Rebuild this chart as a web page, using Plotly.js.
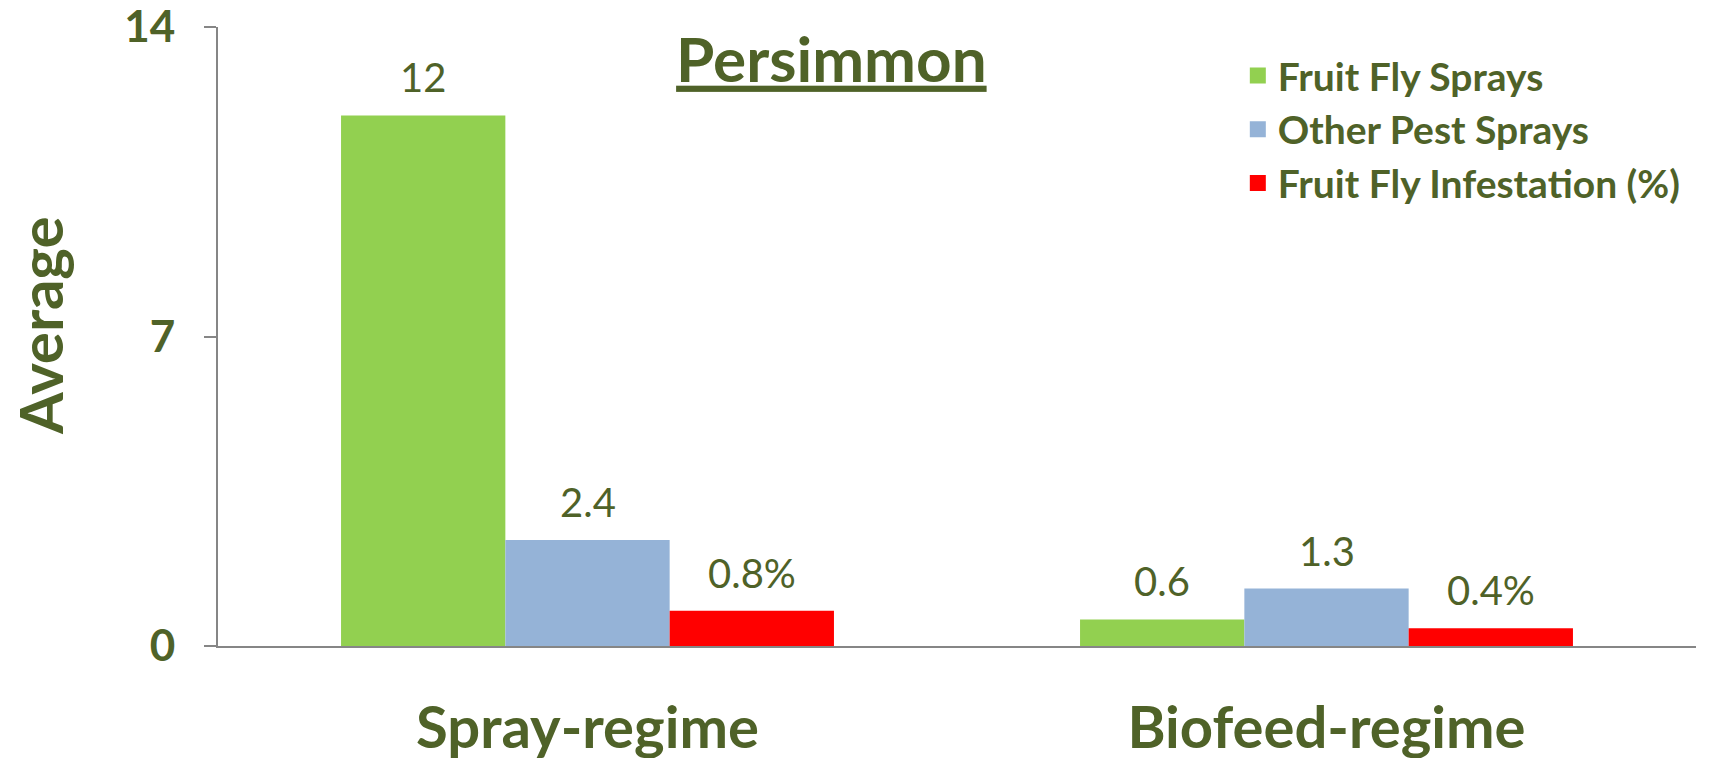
<!DOCTYPE html>
<html>
<head>
<meta charset="utf-8">
<script src="https://cdn.plot.ly/plotly-3.0.1.min.js"></script>
<style>
  html, body { margin: 0; padding: 0; background: #fff; }
  #chart { width: 1710px; height: 758px; }
</style>
</head>
<body>
<div id="chart"></div>
<script>
// values
const regimes = ['Spray-regime', 'Biofeed-regime'];
const seriesNames = ['Fruit Fly Sprays', 'Other Pest Sprays', 'Fruit Fly Infestation (%)'];
const fruitFlySprays = [12, 0.6];
const otherPestSprays = [2.4, 1.3];
const infestation = [0.8, 0.4];
const yTicks = [0, 7, 14];

const colors = ['#92D050', '#95B3D7', '#FF0000'];
const olive = '#4F6228';
const font = 'Lato, "Open Sans", sans-serif';

const W = 1710, H = 758;
const margin = {l: 218, r: 14, t: 27, b: 112};
const bargap = 0.333;

const allSeries = [fruitFlySprays, otherPestSprays, infestation];
const suffix = ['', '', '%'];

let data = [];
allSeries.forEach(function(vals, i) {
    data.push({
        type: 'bar',
        x: regimes,
        y: vals,
        name: seriesNames[i],
        marker: {color: colors[i], line: {width: 0}},
        showlegend: false,
        hoverinfo: 'x+y'
    });
});

// legend entries with bigger square swatches
allSeries.forEach(function(vals, i) {
    data.push({
        type: 'scatter',
        mode: 'markers',
        x: [null],
        y: [null],
        name: seriesNames[i],
        marker: {symbol: 'square', size: 24, color: colors[i]}
    });
});

// value labels above each bar
const plotW = W - margin.l - margin.r;
const plotH = H - margin.t - margin.b;
const barW = plotW / regimes.length * (1 - bargap) / allSeries.length;
let annotations = [];
allSeries.forEach(function(vals, i) {
    vals.forEach(function(v, j) {
        annotations.push({
            x: regimes[j],
            y: v,
            xref: 'x',
            yref: 'y',
            text: v + suffix[i],
            showarrow: false,
            xshift: (i - 1) * barW,
            yshift: 12,
            yanchor: 'bottom',
            font: {family: font, size: 40, color: olive}
        });
    });
});

// y axis title, placed by hand a little above the middle like the original
annotations.push({
    text: 'Average',
    xref: 'paper',
    yref: 'paper',
    x: (40 - margin.l) / plotW,
    y: (H - margin.b - 326) / plotH,
    xanchor: 'center',
    yanchor: 'middle',
    textangle: -90,
    showarrow: false,
    font: {family: font, size: 60, color: olive, weight: 'bold'}
});

const layout = {
    width: W,
    height: H,
    margin: margin,
    paper_bgcolor: '#fff',
    plot_bgcolor: '#fff',
    barmode: 'group',
    bargap: bargap,
    bargroupgap: 0,
    title: {
        text: '<span style="text-decoration:underline">Persimmon</span>',
        font: {family: font, size: 62, color: olive, weight: 'bold'},
        xref: 'paper',
        x: 0.415,
        xanchor: 'center',
        yref: 'container',
        y: 1 - 60 / H,
        yanchor: 'middle'
    },
    xaxis: {
        type: 'category',
        showline: true,
        linecolor: '#868686',
        linewidth: 2,
        ticks: '',
        ticklabelstandoff: 30,
        tickfont: {family: font, size: 58, color: olive, weight: 'bold'},
        showgrid: false,
        zeroline: false
    },
    yaxis: {
        range: [0, 14],
        tickvals: yTicks,
        showline: true,
        linecolor: '#868686',
        linewidth: 2,
        ticks: 'outside',
        ticklen: 12,
        tickwidth: 2,
        tickcolor: '#868686',
        ticklabelstandoff: 20,
        ticklabeloverflow: 'allow',
        tickfont: {family: font, size: 44, color: olive, weight: 'bold'},
        showgrid: false,
        zeroline: false
    },
    legend: {
        x: 0.69,
        y: 0.973,
        xanchor: 'left',
        yanchor: 'top',
        bgcolor: 'rgba(0,0,0,0)',
        font: {family: font, size: 39, color: olive, weight: 'bold'},
        itemwidth: 30,
        tracegroupgap: 0
    },
    annotations: annotations
};

Plotly.newPlot('chart', data, layout, {displayModeBar: false, staticPlot: true});
</script>
</body>
</html>
